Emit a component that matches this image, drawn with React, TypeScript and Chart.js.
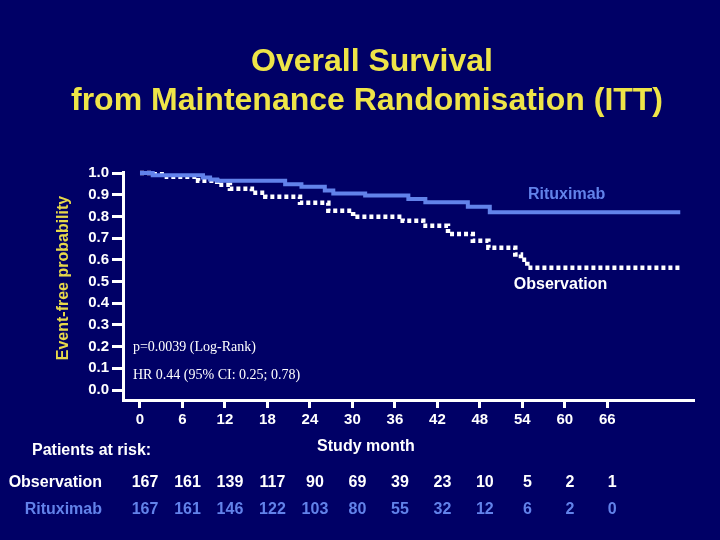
import { useEffect, useRef } from "react";
import { Chart, registerables } from "chart.js";

Chart.register(...registerables);

const titleLines = ["Overall Survival", "from Maintenance Randomisation (ITT)"];
const yTitle = "Event-free probability";
const xTitle = "Study month";

// Kaplan-Meier steps (month, survival after step)
const ritMonths = [0, 1.8, 8.9, 9.9, 10.9, 20.5, 22.8, 26.1, 27.3, 31.8, 37.9, 40.3, 46.3, 49.4, 76.3];
const ritSurv = [1.0, 0.99, 0.98, 0.97, 0.965, 0.948, 0.937, 0.92, 0.906, 0.897, 0.88, 0.865, 0.845, 0.819, 0.819];

const obsMonths = [0, 1.8, 3.8, 8.2, 10.9, 12.7, 15.8, 17.7, 22.6, 26.6, 30.1, 37.1, 40.0, 43.5, 47.0, 49.2, 53.0, 53.8, 54.7, 76.3];
const obsSurv = [1.0, 0.995, 0.983, 0.965, 0.946, 0.928, 0.909, 0.891, 0.863, 0.826, 0.799, 0.78, 0.757, 0.719, 0.688, 0.656, 0.625, 0.6, 0.564, 0.564];

const xTicks = [0, 6, 12, 18, 24, 30, 36, 42, 48, 54, 60, 66];
const yTicks = [0.0, 0.1, 0.2, 0.3, 0.4, 0.5, 0.6, 0.7, 0.8, 0.9, 1.0];

const obsAtRisk = [167, 161, 139, 117, 90, 69, 39, 23, 10, 5, 2, 1];
const ritAtRisk = [167, 161, 146, 122, 103, 80, 55, 32, 12, 6, 2, 0];

const pText = "p=0.0039 (Log-Rank)";
const hrText = "HR 0.44 (95% CI: 0.25; 0.78)";

const BG = "#000066";
const BLUE = "#6282ea";
const YELLOW = "#eee448";
const SANS = "'Liberation Sans', Arial, sans-serif";

const slideText = {
  id: "slideText",
  afterDraw(chart: any) {
    const { ctx } = chart;
    const x = chart.scales.x;
    const y = chart.scales.y;
    ctx.save();

    // slide title
    ctx.fillStyle = YELLOW;
    ctx.font = `bold 32px ${SANS}`;
    ctx.textAlign = "center";
    ctx.textBaseline = "middle";
    ctx.fillText(titleLines[0], 372, 62);
    ctx.fillText(titleLines[1], 367, 101);

    // y axis title
    ctx.save();
    ctx.translate(64, 278);
    ctx.rotate(-Math.PI / 2);
    ctx.fillStyle = "#e6d84a";
    ctx.font = `bold 16px ${SANS}`;
    ctx.fillText(yTitle, 0, 0);
    ctx.restore();

    // statistics
    ctx.fillStyle = "#ffffff";
    ctx.font = "14px 'Liberation Serif', serif";
    ctx.textAlign = "left";
    ctx.fillText(pText, x.getPixelForValue(-1), y.getPixelForValue(0.198));
    ctx.fillText(hrText, x.getPixelForValue(-1), y.getPixelForValue(0.069));

    // curve labels
    ctx.font = `bold 16px ${SANS}`;
    ctx.fillStyle = BLUE;
    ctx.fillText("Rituximab", x.getPixelForValue(54.8), y.getPixelForValue(0.9));
    ctx.fillStyle = "#ffffff";
    ctx.fillText("Observation", x.getPixelForValue(52.8), y.getPixelForValue(0.484));

    // x title and at-risk table
    ctx.textAlign = "center";
    ctx.fillText(xTitle, 366, 447);
    ctx.textAlign = "left";
    ctx.fillText("Patients at risk:", 32, 451);
    ctx.textAlign = "right";
    ctx.fillText("Observation", 102, 483);
    ctx.fillStyle = BLUE;
    ctx.fillText("Rituximab", 102, 510);

    ctx.textAlign = "center";
    xTicks.forEach((m, i) => {
      const px = x.getPixelForValue(m) + 5;
      ctx.fillStyle = "#ffffff";
      ctx.fillText(String(obsAtRisk[i]), px, 483);
      ctx.fillStyle = BLUE;
      ctx.fillText(String(ritAtRisk[i]), px, 510);
    });

    ctx.restore();
  },
};

export default function App() {
  const canvasRef = useRef<HTMLCanvasElement>(null);
  const chartRef = useRef<Chart | null>(null);

  useEffect(() => {
    if (!canvasRef.current) return;
    if (chartRef.current) chartRef.current.destroy();

    chartRef.current = new Chart(canvasRef.current, {
      type: "line",
      data: {
        datasets: [
          {
            label: "Rituximab",
            data: ritMonths.map((m, i) => ({ x: m, y: ritSurv[i] })),
            borderColor: BLUE,
            borderWidth: 4,
            stepped: "before",
            pointRadius: 0,
            fill: false,
            clip: 6,
          },
          {
            label: "Observation",
            data: obsMonths.map((m, i) => ({ x: m, y: obsSurv[i] })),
            borderColor: "#ffffff",
            borderWidth: 4.5,
            borderDash: [4, 3],
            borderCapStyle: "butt",
            stepped: "before",
            pointRadius: 0,
            fill: false,
            clip: 6,
          },
        ],
      },
      options: {
        responsive: false,
        animation: false,
        layout: { padding: { left: 0, right: 27, top: 172, bottom: 0 } },
        plugins: {
          legend: { display: false },
          tooltip: { enabled: false },
          title: { display: false },
        },
        scales: {
          x: {
            type: "linear",
            min: -2.4,
            max: 78.1,
            afterBuildTicks: (scale: any) => {
              scale.ticks = xTicks.map((v) => ({ value: v }));
            },
            afterFit: (scale: any) => {
              scale.height = 140;
            },
            border: { display: true, color: "#ffffff", width: 3 },
            grid: {
              drawOnChartArea: false,
              drawTicks: true,
              tickLength: 8,
              color: "#ffffff",
              lineWidth: 3,
            },
            ticks: {
              color: "#ffffff",
              font: { family: SANS, size: 15, weight: "bold" },
              padding: 3,
              maxRotation: 0,
              callback: (v: any) => String(v),
            },
          },
          y: {
            type: "linear",
            min: -0.046,
            max: 1.005,
            afterBuildTicks: (scale: any) => {
              scale.ticks = yTicks.map((v) => ({ value: v }));
            },
            afterFit: (scale: any) => {
              scale.width = 123;
            },
            border: { display: true, color: "#ffffff", width: 3 },
            grid: {
              drawOnChartArea: false,
              drawTicks: true,
              tickLength: 11,
              color: "#ffffff",
              lineWidth: 3,
            },
            ticks: {
              color: "#ffffff",
              font: { family: SANS, size: 15, weight: "bold" },
              padding: 3,
              callback: (v: any) => Number(v).toFixed(1),
            },
          },
        },
      },
      plugins: [slideText],
    });

    return () => {
      if (chartRef.current) {
        chartRef.current.destroy();
        chartRef.current = null;
      }
    };
  }, []);

  return (
    <div
      style={{
        position: "fixed",
        left: 0,
        top: 0,
        width: 720,
        height: 540,
        background: BG,
      }}
    >
      <canvas ref={canvasRef} width={720} height={540}></canvas>
    </div>
  );
}
